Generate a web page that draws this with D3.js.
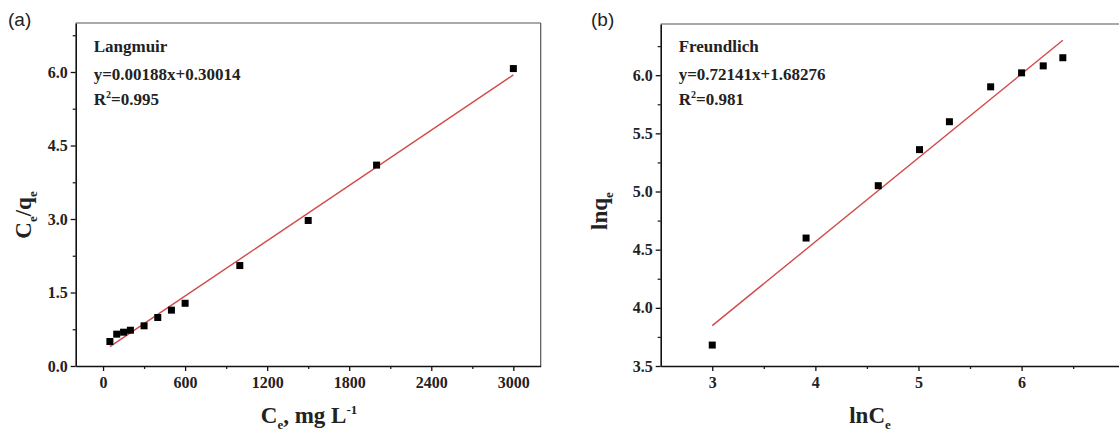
<!DOCTYPE html>
<html>
<head>
<meta charset="utf-8">
<script src="https://cdn.jsdelivr.net/npm/d3@7"></script>
<style>
  body { margin: 0; background: #fff; }
  svg { display: block; }
</style>
</head>
<body>
<svg id="chart" width="1119" height="433"></svg>
<script>
// Langmuir data (panel a)
const langCe = [50, 100, 150, 200, 300, 400, 500, 600, 1000, 1500, 2000, 3000];
const langCeQe = [0.50, 0.65, 0.69, 0.73, 0.82, 0.99, 1.14, 1.28, 2.05, 2.97, 4.10, 6.07];
const langFit = { slope: 0.00188, intercept: 0.30014, from: 50, to: 3000 };
const langXTicks = [0, 600, 1200, 1800, 2400, 3000];
const langXMinor = [300, 900, 1500, 2100, 2700];
const langYTicks = [0, 1.5, 3.0, 4.5, 6.0];
const langYMinor = [0.75, 2.25, 3.75, 5.25, 6.75];

// Freundlich data (panel b)
const freLnCe = [3.00, 3.91, 4.61, 5.01, 5.30, 5.70, 6.00, 6.21, 6.40];
const freLnQe = [3.68, 4.60, 5.05, 5.36, 5.60, 5.90, 6.02, 6.08, 6.15];
const freFit = { slope: 0.72141, intercept: 1.68276, from: 3.0, to: 6.4 };
const freXTicks = [3, 4, 5, 6];
const freXMinor = [3.5, 4.5, 5.5, 6.5];
const freYTicks = [3.5, 4.0, 4.5, 5.0, 5.5, 6.0];
const freYMinor = [3.75, 4.25, 4.75, 5.25, 5.75, 6.25];

const serif = '"Liberation Serif", "Times New Roman", serif';
const sans = '"Liberation Sans", Arial, sans-serif';
const lineColor = "#d24a4a";

const svg = d3.select("#chart");

function drawPanel(opt) {
  const x = d3.scaleLinear().domain(opt.xDomain).range(opt.xRange);
  const y = d3.scaleLinear().domain(opt.yDomain).range(opt.yRange);
  const g = svg.append("g");

  // frame: top and right lighter
  g.append("line")
    .attr("x1", opt.xRange[0]).attr("x2", opt.xRange[1])
    .attr("y1", opt.yRange[1]).attr("y2", opt.yRange[1])
    .attr("stroke", "#555").attr("stroke-width", 1.2);
  g.append("line")
    .attr("x1", opt.xRange[1]).attr("x2", opt.xRange[1])
    .attr("y1", opt.yRange[0]).attr("y2", opt.yRange[1])
    .attr("stroke", "#555").attr("stroke-width", 1.2);

  // minor ticks
  g.append("g")
    .attr("transform", `translate(0,${opt.yRange[0]})`)
    .call(d3.axisBottom(x).tickValues(opt.xMinor).tickSize(3).tickFormat(""))
    .call(a => a.select(".domain").remove())
    .selectAll("line").attr("stroke", "#222").attr("stroke-width", 1.3);
  g.append("g")
    .attr("transform", `translate(${opt.xRange[0]},0)`)
    .call(d3.axisLeft(y).tickValues(opt.yMinor).tickSize(3).tickFormat(""))
    .call(a => a.select(".domain").remove())
    .selectAll("line").attr("stroke", "#222").attr("stroke-width", 1.3);

  // major axes
  const xa = g.append("g")
    .attr("transform", `translate(0,${opt.yRange[0]})`)
    .call(d3.axisBottom(x).tickValues(opt.xTicks).tickSize(5).tickSizeOuter(0).tickPadding(6).tickFormat(opt.xFormat));
  const ya = g.append("g")
    .attr("transform", `translate(${opt.xRange[0]},0)`)
    .call(d3.axisLeft(y).tickValues(opt.yTicks).tickSize(5).tickSizeOuter(0).tickPadding(3).tickFormat(d3.format(".1f")));
  [xa, ya].forEach(a => {
    a.attr("font-family", serif).attr("font-size", 16);
    a.select(".domain").attr("stroke", "#111").attr("stroke-width", 1.6);
    a.selectAll(".tick line").attr("stroke", "#111").attr("stroke-width", 1.3);
    a.selectAll(".tick text")
      .attr("fill", "#222")
      .style("font-family", serif)
      .style("font-weight", "bold")
      .style("font-size", "16px");
  });

  // fit line
  g.append("line")
    .attr("x1", x(opt.fit.from)).attr("y1", y(opt.fit.slope * opt.fit.from + opt.fit.intercept))
    .attr("x2", x(opt.fit.to)).attr("y2", y(opt.fit.slope * opt.fit.to + opt.fit.intercept))
    .attr("stroke", lineColor).attr("stroke-width", 1.4);

  // points
  const s = 7;
  g.selectAll("rect.pt")
    .data(opt.xs.map((d, i) => [d, opt.ys[i]]))
    .enter().append("rect")
    .attr("class", "pt")
    .attr("x", d => x(d[0]) - s / 2)
    .attr("y", d => y(d[1]) - s / 2)
    .attr("width", s).attr("height", s)
    .attr("fill", "#000");

  // annotation
  const ax = opt.xRange[0] + 18;
  const ann = g.append("g").attr("font-family", serif).attr("font-weight", "bold")
    .attr("font-size", 17).attr("fill", "#222");
  ann.append("text").attr("x", ax).attr("y", 52).text(opt.name);
  ann.append("text").attr("x", ax).attr("y", 80).text(opt.eq);
  const r = ann.append("text").attr("x", ax).attr("y", 105);
  r.append("tspan").text("R");
  r.append("tspan").attr("dy", -7).attr("font-size", 10).text("2");
  r.append("tspan").attr("dy", 7).text("=" + opt.r2);

  // panel label
  svg.append("text").attr("x", opt.labelX).attr("y", 26)
    .attr("font-family", sans).attr("font-size", 19).attr("fill", "#222")
    .text(opt.label);

  return { x, y };
}

drawPanel({
  xDomain: [-200, 3200], xRange: [75.7, 540.7],
  yDomain: [0, 7], yRange: [366, 23],
  xTicks: langXTicks, xMinor: langXMinor, yTicks: langYTicks, yMinor: langYMinor,
  xFormat: d3.format("d"),
  xs: langCe, ys: langCeQe, fit: langFit,
  name: "Langmuir", eq: "y=0.00188x+0.30014", r2: "0.995",
  label: "(a)", labelX: 8
});

drawPanel({
  xDomain: [2.5, 7.0], xRange: [660.7, 1124.7],
  yDomain: [3.5, 6.44], yRange: [366, 24],
  xTicks: freXTicks, xMinor: freXMinor, yTicks: freYTicks, yMinor: freYMinor,
  xFormat: d3.format("d"),
  xs: freLnCe, ys: freLnQe, fit: freFit,
  name: "Freundlich", eq: "y=0.72141x+1.68276", r2: "0.981",
  label: "(b)", labelX: 591
});

// axis titles
const titles = svg.append("g").attr("font-family", serif).attr("font-weight", "bold").attr("fill", "#222");

const xt1 = titles.append("text").attr("x", 309).attr("y", 423).attr("text-anchor", "middle").attr("font-size", 23);
xt1.append("tspan").text("C");
xt1.append("tspan").attr("dy", 6).attr("font-size", 13).text("e");
xt1.append("tspan").attr("dy", -6).text(", mg L");
xt1.append("tspan").attr("dy", -9).attr("font-size", 13).text("-1");

const yt1 = titles.append("text").attr("transform", "translate(31,215) rotate(-90)").attr("text-anchor", "middle").attr("font-size", 23);
yt1.append("tspan").text("C");
yt1.append("tspan").attr("dy", 6).attr("font-size", 13).text("e");
yt1.append("tspan").attr("dy", -6).text("/q");
yt1.append("tspan").attr("dy", 6).attr("font-size", 13).text("e");

const xt2 = titles.append("text").attr("x", 870).attr("y", 423).attr("text-anchor", "middle").attr("font-size", 23);
xt2.append("tspan").text("lnC");
xt2.append("tspan").attr("dy", 6).attr("font-size", 13).text("e");

const yt2 = titles.append("text").attr("transform", "translate(607,211) rotate(-90)").attr("text-anchor", "middle").attr("font-size", 23);
yt2.append("tspan").text("lnq");
yt2.append("tspan").attr("dy", 6).attr("font-size", 13).text("e");
</script>
</body>
</html>
